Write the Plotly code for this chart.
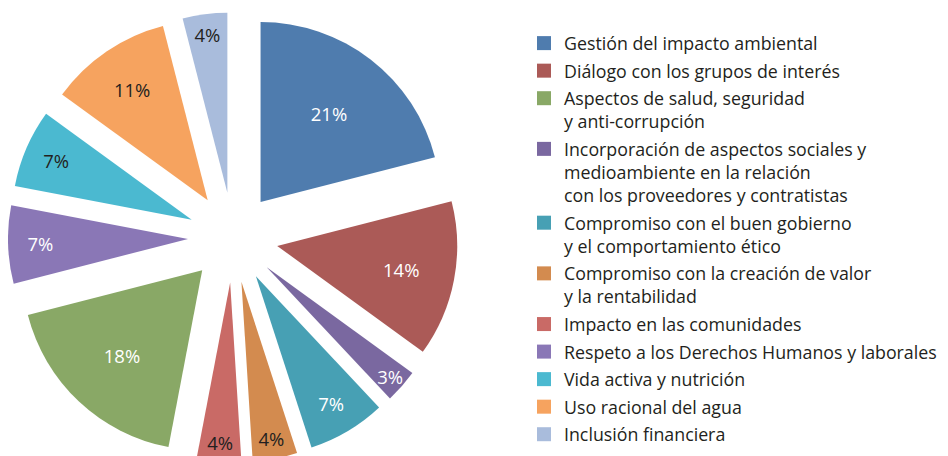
import plotly.graph_objects as go

# Categories in legend order
categories = [
    "Gestión del impacto ambiental",
    "Diálogo con los grupos de interés",
    "Aspectos de salud, seguridad<br>y anti-corrupción",
    "Incorporación de aspectos sociales y<br>medioambiente en la relación<br>con los proveedores y contratistas",
    "Compromiso con el buen gobierno<br>y el comportamiento ético",
    "Compromiso con la creación de valor<br>y la rentabilidad",
    "Impacto en las comunidades",
    "Respeto a los Derechos Humanos y laborales",
    "Vida activa y nutrición",
    "Uso racional del agua",
    "Inclusión financiera",
]
values = [21, 14, 18, 3, 7, 4, 4, 7, 7, 11, 4]
colors = ["#4F7CAE", "#AB5A57", "#89A866", "#7A68A0", "#47A0B4", "#D38B4F",
          "#C96A66", "#8A77B6", "#4BB9D0", "#F6A35F", "#A9BCDC"]
label_colors = ["#FFFFFF", "#FFFFFF", "#FFFFFF", "#FFFFFF", "#FFFFFF", "#231F20",
                "#231F20", "#FFFFFF", "#231F20", "#231F20", "#231F20"]

# Order of slices around the pie (clockwise from 12 o'clock), by category index
slice_order = [0, 1, 3, 4, 5, 6, 2, 7, 8, 9, 10]

pie_labels = [categories[i] for i in slice_order]
pie_values = [values[i] for i in slice_order]
pie_colors = [colors[i] for i in slice_order]
pie_text_colors = [label_colors[i] for i in slice_order]
pie_text = [f"{v}%" for v in pie_values]

FONT = "Open Sans"
W, H = 948, 456

fig = go.Figure()
fig.add_trace(go.Pie(
    labels=pie_labels,
    values=pie_values,
    text=pie_text,
    textinfo="text",
    textposition="inside",
    insidetextorientation="horizontal",
    textfont=dict(family=FONT, size=18.5, color=pie_text_colors),
    insidetextfont=dict(family=FONT, size=18.5, color=pie_text_colors),
    marker=dict(colors=pie_colors, line=dict(width=0)),
    sort=False,
    direction="clockwise",
    rotation=0,
    pull=[0.25] * len(pie_values),
    showlegend=False,
    hoverinfo="label+percent",
    domain=dict(x=[0, 450 / W], y=[0, 1]),
))

for i, (name, col) in enumerate(zip(categories, colors)):
    fig.add_trace(go.Scatter(
        x=[None], y=[None], mode="markers", name=name,
        legendgroup=f"g{i}",
        marker=dict(symbol="square", size=14, color=col),
        hoverinfo="skip",
    ))

fig.update_layout(
    width=W, height=H,
    margin=dict(l=0, r=0, t=3, b=0),
    paper_bgcolor="white", plot_bgcolor="white",
    xaxis=dict(visible=False), yaxis=dict(visible=False),
    uniformtext=dict(mode="show", minsize=18.5),
    legend=dict(
        x=516 / W, xanchor="left", y=0.969, yanchor="top",
        font=dict(family=FONT, size=17.8, color="#231F20"),
        tracegroupgap=1.4, traceorder="grouped", valign="top",
        bgcolor="rgba(0,0,0,0)", borderwidth=0,
    ),
    showlegend=True,
)

fig.write_html("out.html")
